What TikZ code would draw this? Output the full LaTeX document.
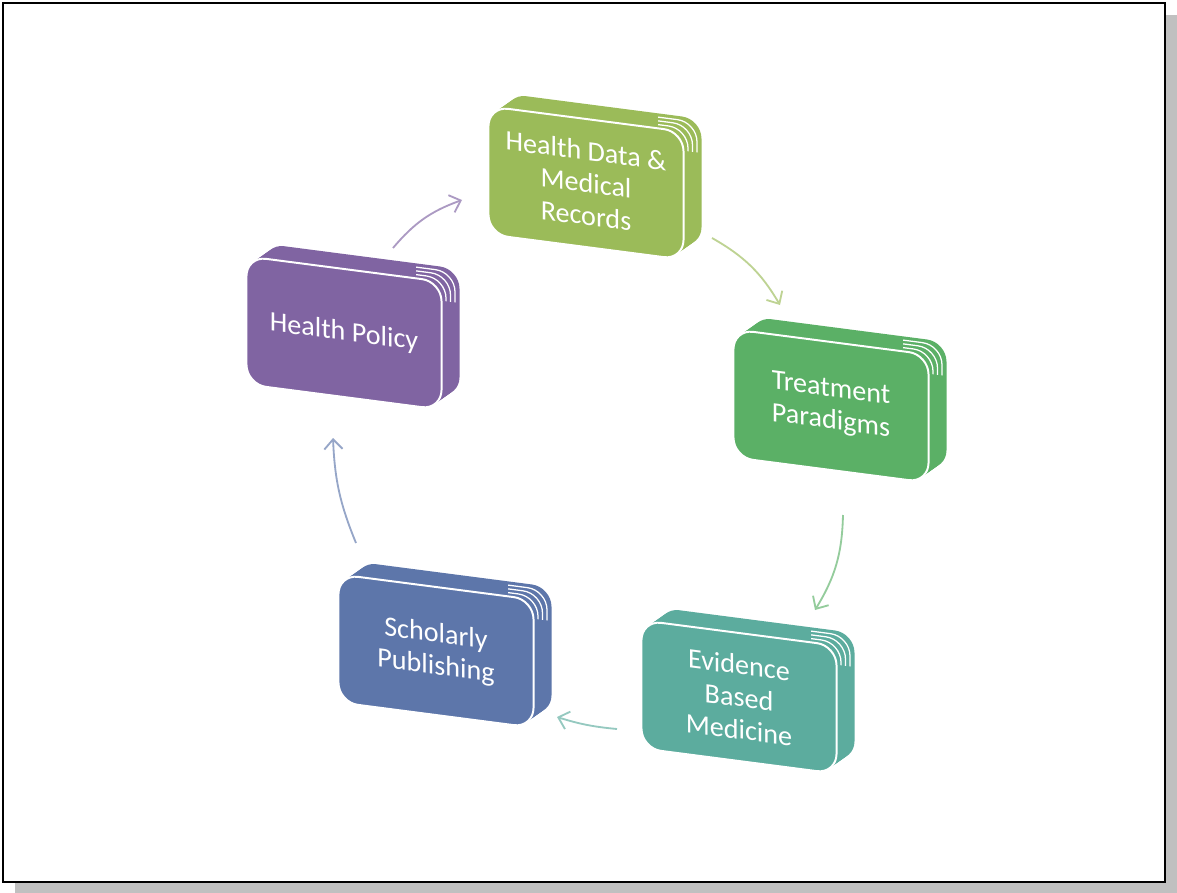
\documentclass[tikz,border=0pt]{standalone}
\usepackage{fontspec}
\setmainfont{Carlito}
\usetikzlibrary{arrows.meta}
\definecolor{mydata}{RGB}{155,187,89}
\definecolor{mytreat}{RGB}{91,176,102}
\definecolor{myevid}{RGB}{92,172,158}
\definecolor{myschol}{RGB}{93,118,170}
\definecolor{mypol}{RGB}{128,100,162}
\definecolor{myshadow}{RGB}{192,192,192}

\begin{document}
\begin{tikzpicture}[x=0.025cm, y=-0.025cm,
	face/.style={rectangle, rounded corners=14pt, draw=white, line width=1.4pt, minimum width=4.875cm, minimum height=3.2cm, align=center, text=white, inner sep=2pt, font=\fontsize{20}{23}\selectfont, transform shape},
	link/.style={-{Straight Barb[length=7pt,width=13pt]}, line width=1.3pt}]

\useasboundingbox (0,0) rectangle (1177,893);

%---------FRAME-----------%
\fill[myshadow] (15,15) rectangle (1177,893);
\draw[line width=2pt, fill=white] (3,3) rectangle (1165,882);

%---------BOXES-----------%
\foreach \n/\x/\y/\c/\txt in {data/586/183/mydata/{Health Data \&\\Medical\\Records},
	treat/831/406/mytreat/{Treatment\\Paradigms},
	evid/739/697/myevid/{Evidence\\Based\\Medicine},
	schol/436/651/myschol/{Scholarly\\Publishing},
	pol/344/333/mypol/{Health Policy}}{
	\begin{scope}[shift={(\x,\y)}, yslant=-0.13]
		\foreach \t in {1,0.9,...,0.1}{
			\fill[\c, rounded corners=14pt] (-97.5+18*\t,-64-15*\t) rectangle (97.5+18*\t,64-15*\t);
		};
		\begin{scope}
			\clip (72,-92) rectangle (130,-45);
			\foreach \t in {0.25,0.5,0.75}{
				\draw[white, line width=0.9pt, rounded corners=14pt] (-97.5+18*\t,-64-15*\t) rectangle (97.5+18*\t,64-15*\t);
			};
		\end{scope}
		\node [face, fill=\c] (\n) at (0,0) {\txt};
	\end{scope}
};

%---------ARROWS-----------%
\coordinate (pol-out) at (393,248);
\coordinate (data-in) at (462,200);
\coordinate (data-out) at (712,238);
\coordinate (treat-in) at (780,305);
\coordinate (treat-out) at (843,515);
\coordinate (evid-in) at (815,610);
\coordinate (evid-out) at (617,729);
\coordinate (schol-in) at (557,717);
\coordinate (schol-out) at (356,543);
\coordinate (pol-in) at (333,438);

\draw[link, mypol!65] (pol-out) to [bend left = 15] (data-in);
\draw[link, mydata!65] (data-out) to [bend left = 15] (treat-in);
\draw[link, mytreat!65] (treat-out) to [bend left = 15] (evid-in);
\draw[link, myevid!65] (evid-out) to [bend left = 6] (schol-in);
\draw[link, myschol!65] (schol-out) to [bend left = 10] (pol-in);

\end{tikzpicture}
\end{document}
